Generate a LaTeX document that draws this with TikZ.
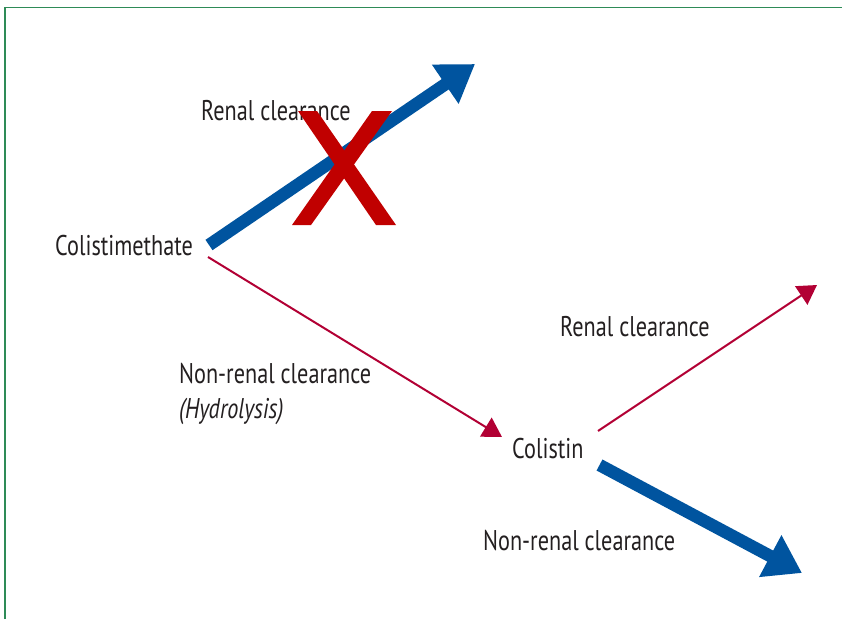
\documentclass[tikz,border=0pt]{standalone}
\usepackage{fontspec}
\setmainfont[FakeStretch=0.78]{PT Sans}
\usetikzlibrary{arrows.meta}
\definecolor{bluearr}{RGB}{0,84,159}
\definecolor{crimson}{RGB}{178,0,52}
\definecolor{xred}{RGB}{192,0,0}
\definecolor{frame}{RGB}{46,139,87}
\definecolor{txt}{RGB}{35,31,32}
\tikzset{
  lbl/.style={anchor=base west, inner sep=0pt, text=txt, font=\fontsize{28.5}{32}\selectfont},
  thickarr/.style={draw=bluearr, line width=12.5pt, -{Triangle[length=36pt,width=45pt]}},
  thinarr/.style={draw=crimson, line width=2pt, -{Triangle[length=19pt,width=22pt]}},
}
\begin{document}
\begin{tikzpicture}[x=1pt,y=-1pt]
\useasboundingbox (0,0) rectangle (842,619);
% frame
\draw[frame, line width=1.5pt] (5,619) -- (5,7.5) -- (842,7.5);
% labels
\node[lbl] (rc1) at (201,120) {Renal clearance};
\node[lbl] (cm) at (55,255) {Colistimethate};
\node[lbl] (nrc1) at (179,383) {Non-renal clearance};
\node[lbl] (hyd) at (179,418) {\itshape (Hydrolysis)};
\node[lbl] (col) at (512,458) {Colistin};
\node[lbl] (rc2) at (560,336) {Renal clearance};
\node[lbl] (nrc2) at (483,550) {Non-renal clearance};
% connector end points
\coordinate (a1s) at (209,245);
\coordinate (a1e) at (475,64);
\coordinate (a2s) at (208,257);
\coordinate (a2e) at (502,437);
\coordinate (a3s) at (598,431);
\coordinate (a3e) at (817,285);
\coordinate (a4s) at (599.5,465);
\coordinate (a4e) at (802,573);
% arrows
\draw[thickarr] (a1s) -- (a1e);
\draw[thinarr] (a2s) -- (a2e);
\draw[thinarr] (a3s) -- (a3e);
\draw[thickarr] (a4s) -- (a4e);
% red cross
\fill[xred] (298,111) -- (317,111) -- (396,225) -- (376,225) -- cycle;
\fill[xred] (372,111) -- (392,111) -- (311,225) -- (292,225) -- cycle;
\end{tikzpicture}
\end{document}
